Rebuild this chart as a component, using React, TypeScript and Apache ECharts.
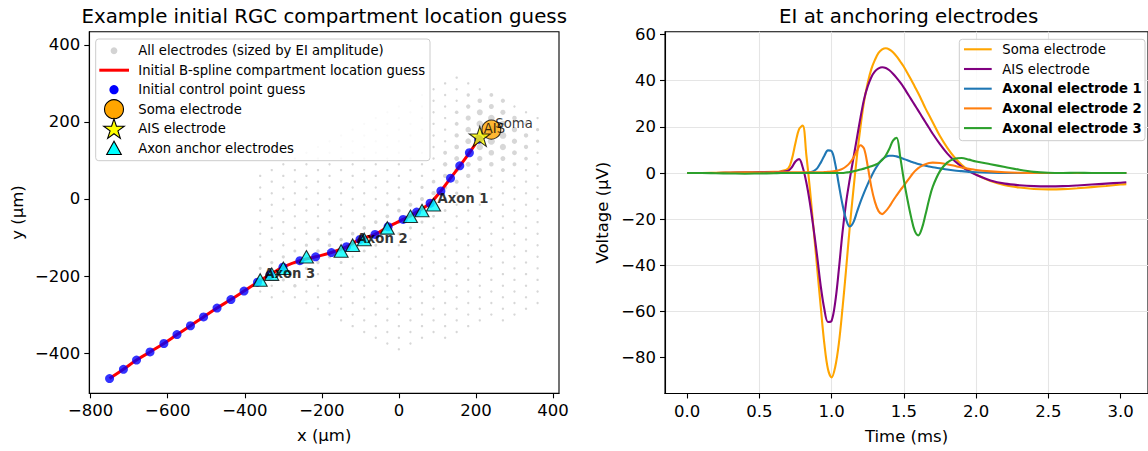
import { useEffect, useRef } from "react";
import * as echarts from "echarts";

const FONT = "'DejaVu Sans', 'Noto Sans', sans-serif";
const MINUS = "\u2212";

// ---------- Left panel: electrode array and fitted compartment path (µm) ----------

// Lattice: columns every 30 µm, neighbouring columns offset by 15 µm.
const PITCH_X = 30;
const PITCH_Y = 15;
const COLUMN_RANGE = [-12, 12];
const ROW_RANGE = [-27, 23];
const OUTLINE_X = [150, 360, 360, 0, -360, -360];
const OUTLINE_Y = [330, 225, -285, -400, -240, 75];

// Peak-to-peak EI amplitude (µV) on the electrodes that stand out; the rest sit at the floor.
const FLOOR_AMP = 11;
const EI_PEAKS: number[][] = [
  [240, 180, 140], [210, 165, 110], [240, 150, 95], [270, 165, 90], [240, 210, 85], [210, 195, 85],
  [270, 195, 75], [210, 135, 80], [270, 135, 75], [210, 225, 70], [180, 180, 60], [180, 150, 62],
  [300, 180, 55], [300, 150, 55], [180, 210, 52], [240, 120, 60], [270, 225, 50], [180, 120, 55],
  [210, 105, 55], [300, 120, 45], [330, 165, 38], [330, 135, 36], [150, 135, 42], [150, 105, 45],
  [180, 90, 48], [270, 105, 45], [240, 90, 40], [300, 210, 40], [270, 255, 35], [210, 255, 40],
  [240, 240, 48], [180, 240, 36], [150, 165, 35], [150, 195, 30], [330, 195, 28], [120, 90, 38],
  [150, 75, 40], [120, 60, 36], [180, 60, 38], [210, 75, 36], [240, 270, 28], [300, 90, 30],
  [270, 75, 30], [330, 105, 26], [360, 150, 20], [360, 180, 20], [120, 120, 30], [150, 225, 25],
  [180, 270, 22],
  [120, 30, 35], [90, 15, 35], [150, 45, 32], [120, 0, 28], [60, 0, 30], [90, -15, 35],
  [60, -30, 33], [30, -15, 28], [30, -45, 30], [0, -30, 26], [0, -60, 28], [-30, -45, 26],
  [-30, -75, 28], [-60, -60, 24], [-60, -90, 28], [-90, -75, 24], [-90, -105, 30], [-120, -90, 25],
  [-120, -120, 30], [-150, -105, 24], [-150, -135, 28], [-180, -120, 25], [-180, -150, 25],
  [-180, -90, 22], [-210, -105, 24], [-210, -135, 24], [-210, -165, 22], [-240, -150, 28],
  [-240, -180, 22], [-240, -120, 20], [-270, -165, 26], [-270, -195, 22], [-270, -135, 18],
  [-300, -150, 20], [-300, -180, 26], [-300, -210, 20], [-330, -195, 24], [-330, -165, 20],
  [-360, -210, 22], [-360, -180, 18], [-270, -225, 24], [90, 45, 26], [60, 30, 20], [150, 15, 20],
  [0, 0, 18], [-30, -15, 16], [-90, -135, 18], [-150, -165, 18], [-60, -120, 18], [0, -90, 18],
  [30, -75, 18], [60, -60, 18], [90, -45, 16], [120, -30, 16],
];

// Initial control points of the B-spline, from the distal axon to the AIS.
const CTRL_X = [-751, -715, -681, -646, -610, -576, -541, -507, -472, -436, -402, -367, -335, -301,
  -257, -216, -175, -136, -101, -62, -28, 11, 46, 81, 109, 134, 158, 183, 207];
const CTRL_Y = [-466, -442, -418, -397, -375, -352, -329, -306, -283, -261, -239, -216, -197, -177,
  -160, -150, -139, -124, -105, -92, -72, -53, -34, -11, 21, 54, 86, 120, 155];

const SOMA_XY = [240, 180];
const AIS_XY = [210, 165];
const ANCHOR_X = [90, 60, 30, -30, -90, -120, -150, -240, -300, -330, -360];
const ANCHOR_Y = [-15, -30, -45, -75, -105, -120, -135, -150, -180, -195, -210];
const AXON_LABELS = ["Axon 1", "Axon 2", "Axon 3"];
const AXON_LABEL_ANCHOR = [0, 5, 10];

const LEFT_X_TICKS = [-800, -600, -400, -200, 0, 200, 400];
const LEFT_Y_TICKS = [-400, -200, 0, 200, 400];

// ---------- Right panel: EI waveforms (µV) ----------
const TIME_MS = [0, 0.1, 0.2, 0.3, 0.4, 0.5, 0.6, 0.65, 0.7,
  0.725, 0.75, 0.775, 0.8, 0.825, 0.85, 0.875, 0.9, 0.925, 0.95, 0.975, 1.0,
  1.025, 1.05, 1.075, 1.1, 1.125, 1.15, 1.175, 1.2, 1.225, 1.25, 1.275, 1.3,
  1.325, 1.35, 1.375, 1.4, 1.425, 1.45, 1.475, 1.5, 1.525, 1.55, 1.575, 1.6,
  1.625, 1.65, 1.675, 1.7,
  1.75, 1.8, 1.85, 1.9, 1.95, 2.0,
  2.1, 2.2, 2.3, 2.4, 2.5, 2.6, 2.7, 2.8, 2.9, 3.0, 3.04];

const EI_SOMA = [0, 0, 0.1, 0.2, 0.3, 0.4, 0.5, 0.8, 2,
  6, 13, 19, 20.5, 8, -7, -24, -41, -58, -74, -85, -88.5,
  -84, -74, -59, -42, -24, -8, 7, 20, 31, 39, 45, 49,
  52, 53.5, 54, 53.5, 52.3, 50.5, 48.3, 46, 43.3, 40.5, 37.5, 34.5,
  31.3, 28, 25, 22,
  16, 11, 6.8, 3.6, 1.2, -0.6,
  -3.5, -5.3, -6.3, -6.9, -7.1, -7.0, -6.6, -6.1, -5.6, -5.0, -4.8];

const EI_AIS = [0, 0, 0, 0.1, 0.2, 0.3, 0.4, 0.5, 1,
  2.5, 5, 6, 2.5, -4, -13, -24, -36, -49, -59, -64.5, -64,
  -56, -42, -26, -13, -3, 6, 15, 24, 32, 37.5, 41.5, 44,
  45.3, 45.8, 45.5, 44.5, 43, 41.2, 39.2, 37, 34.5, 32, 29.5, 27,
  24.5, 22, 19.5, 17,
  12.5, 8.5, 5.3, 2.8, 0.8, -0.8,
  -3.2, -4.6, -5.3, -5.7, -5.8, -5.7, -5.4, -5.0, -4.6, -4.2, -4.0];

const EI_AXON1 = [0, 0, 0, 0, 0, 0, 0, 0, 0,
  0, 0, 0, 0, 0.1, 0.3, 0.8, 2, 4.5, 7.5, 9.8, 9.5,
  4, -5, -13.5, -20, -23.2, -21.5, -17, -12.5, -8.5, -4.8, -1.5, 1.5,
  4, 5.8, 7, 7.5, 7.5, 7.2, 6.7, 6.1, 5.5, 4.9, 4.4, 3.9,
  3.5, 3.1, 2.8, 2.5,
  2, 1.5, 1.1, 0.8, 0.5, 0.3,
  0.1, 0, 0, 0, 0, 0, 0, 0, 0, 0, 0];

const EI_AXON2 = [0, 0, 0, 0.1, 0.2, 0.2, 0.3, 0.3, 0.3,
  0.3, 0.3, 0.3, 0.3, 0.3, 0.3, 0.3, 0.3, 0.3, 0.4, 0.5, 0.6,
  0.8, 1.2, 1.8, 2.8, 4.3, 6.5, 9.5, 12, 10.5, 3, -6, -12.5,
  -16.5, -17.8, -16.5, -14.5, -12, -9.7, -7.5, -5.5, -3.3, -1.2, 0.7, 2.1,
  3.1, 3.8, 4.3, 4.5,
  4.3, 3.8, 3.1, 2.4, 1.8, 1.3,
  0.7, 0.3, 0.1, 0, 0, 0, 0, 0, 0, 0, 0];

const EI_AXON3 = [0, 0, -0.1, -0.2, -0.3, -0.2, -0.1, 0, 0,
  0, 0, 0, 0, 0, 0, 0, 0, 0, 0, 0, 0,
  0, 0, 0, 0.2, 0.4, 0.7, 1.1, 1.5, 1.9, 2.4, 2.9, 3.5,
  4.3, 5.6, 7.6, 10.5, 14, 15.3, 7, -3, -11.5, -19, -25, -27,
  -24, -18, -11.5, -6,
  0.8, 4.5, 6.2, 6.5, 5.8, 5.0,
  3.8, 2.6, 1.4, 0.5, 0.1, 0, 0.1, 0, 0, 0, 0];

const TRACES = [
  { name: "Soma electrode", values: EI_SOMA, color: "#ffa500", bold: false },
  { name: "AIS electrode", values: EI_AIS, color: "#800080", bold: false },
  { name: "Axonal electrode 1", values: EI_AXON1, color: "#1f77b4", bold: true },
  { name: "Axonal electrode 2", values: EI_AXON2, color: "#ff7f0e", bold: true },
  { name: "Axonal electrode 3", values: EI_AXON3, color: "#2ca02c", bold: true },
];

const RIGHT_X_TICKS = [0, 0.5, 1.0, 1.5, 2.0, 2.5, 3.0];
const RIGHT_Y_TICKS = [-80, -60, -40, -20, 0, 20, 40, 60];

// ---------- helpers ----------
const STAR_PATH =
  "path://M50,0 L61.2,34.5 L97.6,34.5 L68.2,55.9 L79.4,90.5 L50,69.1 L20.6,90.5 L31.8,55.9 L2.4,34.5 L38.8,34.5 Z";

function starPoints(cx: number, cy: number, r: number): number[][] {
  const pts: number[][] = [];
  for (let k = 0; k < 10; k++) {
    const rad = k % 2 === 0 ? r : r * 0.382;
    const a = Math.PI / 2 - (k * Math.PI) / 5;
    pts.push([cx + rad * Math.cos(a), cy - rad * Math.sin(a)]);
  }
  return pts;
}

function segDist(px: number, py: number, ax: number, ay: number, bx: number, by: number) {
  const dx = bx - ax, dy = by - ay;
  const t = Math.max(0, Math.min(1, ((px - ax) * dx + (py - ay) * dy) / (dx * dx + dy * dy)));
  return Math.hypot(px - (ax + t * dx), py - (ay + t * dy));
}

function onArray(x: number, y: number) {
  let inside = false;
  let near = false;
  const n = OUTLINE_X.length;
  for (let a = 0, b = n - 1; a < n; b = a++) {
    const xa = OUTLINE_X[a], ya = OUTLINE_Y[a], xb = OUTLINE_X[b], yb = OUTLINE_Y[b];
    if (segDist(x, y, xa, ya, xb, yb) < 2) near = true;
    if ((ya > y) !== (yb > y) && x < ((xb - xa) * (y - ya)) / (yb - ya) + xa) inside = !inside;
  }
  return inside || near;
}

function buildElectrodes(): number[][] {
  const amp = new Map<string, number>();
  EI_PEAKS.forEach(([x, y, a]) => amp.set(`${x},${y}`, a));
  const out: number[][] = [];
  for (let i = COLUMN_RANGE[0]; i <= COLUMN_RANGE[1]; i++) {
    for (let j = ROW_RANGE[0]; j <= ROW_RANGE[1]; j++) {
      if (Math.abs(i + j) % 2 !== 0) continue;
      const x = i * PITCH_X;
      const y = j * PITCH_Y;
      if (!onArray(x, y)) continue;
      out.push([x, y, amp.get(`${x},${y}`) ?? FLOOR_AMP]);
    }
  }
  return out;
}

const fmtSigned = (v: number) => (v < 0 ? MINUS + Math.abs(v) : String(v));

function buildOption() {
  const electrodes = buildElectrodes();
  const ctrl = CTRL_X.map((x, k) => [x, CTRL_Y[k]]);
  const anchors = ANCHOR_X.map((x, k) => [x, ANCHOR_Y[k]]);
  const labelPoints = [
    { name: "Soma", value: SOMA_XY, label: { fontWeight: "normal" } },
    { name: "AIS", value: AIS_XY, label: { fontWeight: "normal" } },
    ...AXON_LABELS.map((name, k) => ({
      name,
      value: anchors[AXON_LABEL_ANCHOR[k]],
      label: { fontWeight: "bold" },
    })),
  ];

  const tickText = { color: "#000", fontSize: 16.5, fontFamily: FONT };
  const nameText = { color: "#000", fontSize: 16.5, fontFamily: FONT };
  const axisLine = { show: true, onZero: false, lineStyle: { color: "#000", width: 1.1 } };
  const axisTickBase = { show: true, length: 5, inside: false, lineStyle: { color: "#000", width: 1.1 } };

  const legendFont = { fontSize: 13.2, fontFamily: FONT, fill: "#000" };
  const LEG_L_ROWS = [50.7, 70.2, 89.7, 109.2, 128.7, 148.2];
  const LEG_R_ROWS = [49.3, 69, 88.7, 108.4, 128.1];
  const iconX = 114;
  const leftLegendText = [
    "All electrodes (sized by EI amplitude)",
    "Initial B-spline compartment location guess",
    "Initial control point guess",
    "Soma electrode",
    "AIS electrode",
    "Axon anchor electrodes",
  ];

  const graphic: any[] = [
    {
      type: "text", x: 324.2, y: 16, z: 100,
      style: { text: "Example initial RGC compartment location guess", fontSize: 19.8, fontFamily: FONT, fill: "#000", align: "center", verticalAlign: "middle" },
    },
    {
      type: "text", x: 908.7, y: 16, z: 100,
      style: { text: "EI at anchoring electrodes", fontSize: 19.8, fontFamily: FONT, fill: "#000", align: "center", verticalAlign: "middle" },
    },
    // left legend frame
    {
      type: "rect", z: 100,
      shape: { x: 95.7, y: 39, width: 334.3, height: 121.7, r: 3 },
      style: { fill: "rgba(255,255,255,0.85)", stroke: "#cccccc", lineWidth: 1 },
    },
    { type: "circle", z: 101, shape: { cx: iconX, cy: LEG_L_ROWS[0], r: 3.4 }, style: { fill: "#d3d3d3" } },
    { type: "line", z: 101, shape: { x1: 99.3, y1: LEG_L_ROWS[1], x2: 129, y2: LEG_L_ROWS[1] }, style: { stroke: "#ff0000", lineWidth: 3 } },
    { type: "circle", z: 101, shape: { cx: iconX, cy: LEG_L_ROWS[2], r: 4.6 }, style: { fill: "#0000ff" } },
    { type: "circle", z: 101, shape: { cx: iconX, cy: LEG_L_ROWS[3], r: 9.5 }, style: { fill: "#ffa500", stroke: "#000", lineWidth: 1.1 } },
    { type: "polygon", z: 101, shape: { points: starPoints(iconX, LEG_L_ROWS[4] + 0.9, 10.8) }, style: { fill: "#ffff00", stroke: "#000", lineWidth: 1.1 } },
    { type: "polygon", z: 101, shape: { points: [[iconX, LEG_L_ROWS[5] - 7], [iconX - 7.3, LEG_L_ROWS[5] + 6.3], [iconX + 7.3, LEG_L_ROWS[5] + 6.3]] }, style: { fill: "#00ffff", stroke: "#000", lineWidth: 1.1 } },
    ...leftLegendText.map((t, k) => ({
      type: "text", z: 101, x: 138.3, y: LEG_L_ROWS[k],
      style: { ...legendFont, text: t, align: "left", verticalAlign: "middle" },
    })),
    // right legend frame
    {
      type: "rect", z: 100,
      shape: { x: 959.3, y: 39.3, width: 185.7, height: 101.4, r: 3 },
      style: { fill: "rgba(255,255,255,0.85)", stroke: "#cccccc", lineWidth: 1 },
    },
    ...TRACES.map((tr, k) => ({
      type: "line", z: 101,
      shape: { x1: 964, y1: LEG_R_ROWS[k], x2: 991.7, y2: LEG_R_ROWS[k] },
      style: { stroke: tr.color, lineWidth: 2.1 },
    })),
    ...TRACES.map((tr, k) => ({
      type: "text", z: 101, x: 1002.3, y: LEG_R_ROWS[k],
      style: { ...legendFont, text: tr.name, fontWeight: tr.bold ? "bold" : "normal", align: "left", verticalAlign: "middle" },
    })),
  ];

  return {
    animation: false,
    backgroundColor: "#ffffff",
    textStyle: { fontFamily: FONT },
    grid: [
      { left: 89.3, top: 31.7, width: 469.7, height: 361.6, show: true, borderColor: "#000", borderWidth: 1.1, backgroundColor: "transparent" },
      { left: 665, top: 31.7, width: 487.4, height: 361.8, show: true, borderColor: "#000", borderWidth: 1.1, backgroundColor: "transparent" },
    ],
    xAxis: [
      {
        gridIndex: 0, type: "value", min: -803.6, max: 415.6, minInterval: 200, maxInterval: 200,
        axisLine, axisTick: { ...axisTickBase, customValues: LEFT_X_TICKS },
        axisLabel: { ...tickText, customValues: LEFT_X_TICKS, formatter: fmtSigned, margin: 9 },
        splitLine: { show: false },
        name: "x (µm)", nameLocation: "middle", nameGap: 34, nameTextStyle: nameText,
      },
      {
        gridIndex: 1, type: "value", min: -0.153, max: 3.19, minInterval: 0.5, maxInterval: 0.5,
        axisLine, axisTick: { ...axisTickBase, customValues: RIGHT_X_TICKS },
        axisLabel: { ...tickText, customValues: RIGHT_X_TICKS, formatter: (v: number) => v.toFixed(1), margin: 9 },
        splitLine: { show: true, showMinLine: false, showMaxLine: false, lineStyle: { color: "#e5e5e5", width: 1.1 } },
        name: "Time (ms)", nameLocation: "middle", nameGap: 34, nameTextStyle: nameText,
      },
    ],
    yAxis: [
      {
        gridIndex: 0, type: "value", min: -504.3, max: 434.2, minInterval: 200, maxInterval: 200,
        axisLine, axisTick: { ...axisTickBase, customValues: LEFT_Y_TICKS },
        axisLabel: { ...tickText, customValues: LEFT_Y_TICKS, formatter: fmtSigned, margin: 9 },
        splitLine: { show: false },
        name: "y (µm)", nameLocation: "middle", nameGap: 63, nameTextStyle: nameText,
      },
      {
        gridIndex: 1, type: "value", min: -95.5, max: 61.2, minInterval: 20, maxInterval: 20,
        axisLine, axisTick: { ...axisTickBase, customValues: RIGHT_Y_TICKS },
        axisLabel: { ...tickText, customValues: RIGHT_Y_TICKS, formatter: fmtSigned, margin: 9 },
        splitLine: { show: true, showMinLine: false, showMaxLine: false, lineStyle: { color: "#e5e5e5", width: 1.1 } },
        name: "Voltage (µV)", nameLocation: "middle", nameGap: 54, nameTextStyle: nameText,
      },
    ],
    graphic,
    series: [
      {
        name: "All electrodes (sized by EI amplitude)", type: "scatter", xAxisIndex: 0, yAxisIndex: 0, z: 1,
        data: electrodes, symbol: "circle",
        symbolSize: (v: number[]) => 0.72 * Math.sqrt(v[2]),
        itemStyle: { color: "#cdcdcd" }, silent: true,
      },
      {
        name: "Initial B-spline compartment location guess", type: "line", xAxisIndex: 0, yAxisIndex: 0, z: 2,
        data: ctrl, smooth: 0.4, symbol: "none", lineStyle: { color: "#ff0000", width: 3 }, silent: true,
      },
      {
        name: "Initial control point guess", type: "scatter", xAxisIndex: 0, yAxisIndex: 0, z: 3,
        data: ctrl, symbolSize: 9, itemStyle: { color: "#0000ff" }, silent: true,
      },
      {
        name: "Soma electrode", type: "scatter", xAxisIndex: 0, yAxisIndex: 0, z: 4,
        data: [SOMA_XY], symbolSize: 19, itemStyle: { color: "#ffa500", borderColor: "#000", borderWidth: 1.1 }, silent: true,
      },
      {
        name: "AIS electrode", type: "scatter", xAxisIndex: 0, yAxisIndex: 0, z: 5,
        data: [AIS_XY], symbol: STAR_PATH, symbolSize: [21, 20], symbolOffset: [0, 1],
        itemStyle: { color: "#ffff00", borderColor: "#000", borderWidth: 1.1 }, silent: true,
      },
      {
        name: "Axon anchor electrodes", type: "scatter", xAxisIndex: 0, yAxisIndex: 0, z: 6,
        data: anchors, symbol: "triangle", symbolSize: [14, 12.5],
        itemStyle: { color: "#00ffff", borderColor: "#000", borderWidth: 1.1 }, silent: true,
      },
      {
        name: "labels", type: "scatter", xAxisIndex: 0, yAxisIndex: 0, z: 7,
        data: labelPoints, symbolSize: 1, itemStyle: { color: "rgba(0,0,0,0)" }, silent: true,
        label: {
          show: true, formatter: "{b}", position: [4.5, 0.5], align: "left", verticalAlign: "bottom",
          fontSize: 13.2, color: "#000", fontFamily: FONT,
        },
      },
      ...TRACES.map((tr, k) => ({
        name: tr.name, type: "line", xAxisIndex: 1, yAxisIndex: 1, z: 2 + k,
        data: TIME_MS.map((t, i) => [t, tr.values[i]]),
        smooth: 0.35, symbol: "none", lineStyle: { color: tr.color, width: 2.1 }, silent: true,
      })),
    ],
  };
}

export default function App() {
  const ref = useRef<HTMLDivElement>(null);
  useEffect(() => {
    if (!ref.current) return;
    const chart = echarts.init(ref.current, null, { renderer: "svg" });
    chart.setOption(buildOption() as any);
    return () => chart.dispose();
  }, []);
  return (
    <div
      ref={ref}
      style={{ position: "absolute", left: 0, top: 0, width: 1148, height: 451, background: "#fff" }}
    />
  );
}
